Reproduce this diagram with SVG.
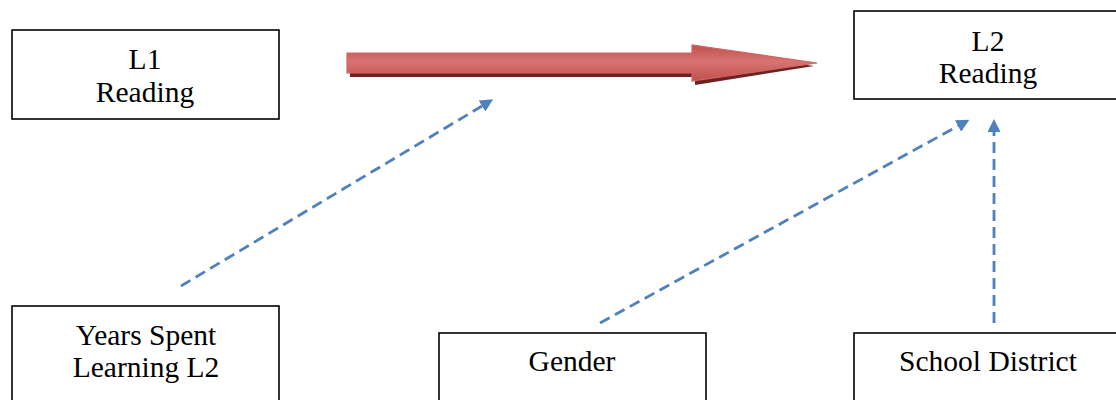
<svg xmlns="http://www.w3.org/2000/svg" width="1116" height="400" viewBox="0 0 1116 400">
  <style>
    .box { fill: #ffffff; stroke: #000000; stroke-width: 1.6; }
    .label { font-family: "Liberation Serif", "Times New Roman", serif; font-size: 29.5px; fill: #000000; text-anchor: middle; }
    .dash { fill: none; stroke: #4F81BD; stroke-width: 2.8; stroke-dasharray: 11 6; }
  </style>
  <defs>
    <marker id="tri" viewBox="0 0 12 12" refX="0" refY="6" markerWidth="13" markerHeight="13" markerUnits="userSpaceOnUse" orient="auto">
      <path d="M0,0 L12,6 L0,12 Z" fill="#4F81BD"/>
    </marker>
    <linearGradient id="redFill" x1="0" y1="0" x2="0" y2="1">
      <stop offset="0" stop-color="#C0504D"/>
      <stop offset="0.45" stop-color="#D77472"/>
      <stop offset="1" stop-color="#C0504D"/>
    </linearGradient>
  </defs>

  <!-- main effect arrow: dark drop shadow under a gradient body -->
  <g id="main-arrow">
    <path d="M350,57 L695,57 L695,49 L814,66 L695,85 L695,77 L350,77 Z" fill="#6E2220"/>
    <path d="M347,53 L692,53 L692,45 L817,63 L692,81 L692,73 L347,73 Z" fill="url(#redFill)" stroke="#CF6664" stroke-width="1.2"/>
  </g>

  <g id="connectors">
    <line class="dash" x1="181" y1="286" x2="482" y2="106" marker-end="url(#tri)"/>
    <line class="dash" x1="600" y1="323" x2="958" y2="126" marker-end="url(#tri)"/>
    <line class="dash" x1="994" y1="323" x2="994" y2="132" marker-end="url(#tri)"/>
  </g>

  <g id="l1-reading">
    <rect class="box" x="12" y="30" width="267" height="89"/>
    <text class="label" x="145" y="69">L1</text>
    <text class="label" x="145" y="102">Reading</text>
  </g>

  <g id="l2-reading">
    <rect class="box" x="854" y="11" width="267" height="88"/>
    <text class="label" x="988" y="51">L2</text>
    <text class="label" x="988" y="83">Reading</text>
  </g>

  <g id="years-spent">
    <rect class="box" x="12" y="306" width="267" height="100"/>
    <text class="label" x="146" y="345">Years Spent</text>
    <text class="label" x="146" y="377">Learning L2</text>
  </g>

  <g id="gender">
    <rect class="box" x="439" y="333" width="267" height="80"/>
    <text class="label" x="572" y="371">Gender</text>
  </g>

  <g id="school-district">
    <rect class="box" x="854" y="333" width="267" height="80"/>
    <text class="label" x="988" y="371">School District</text>
  </g>
</svg>
